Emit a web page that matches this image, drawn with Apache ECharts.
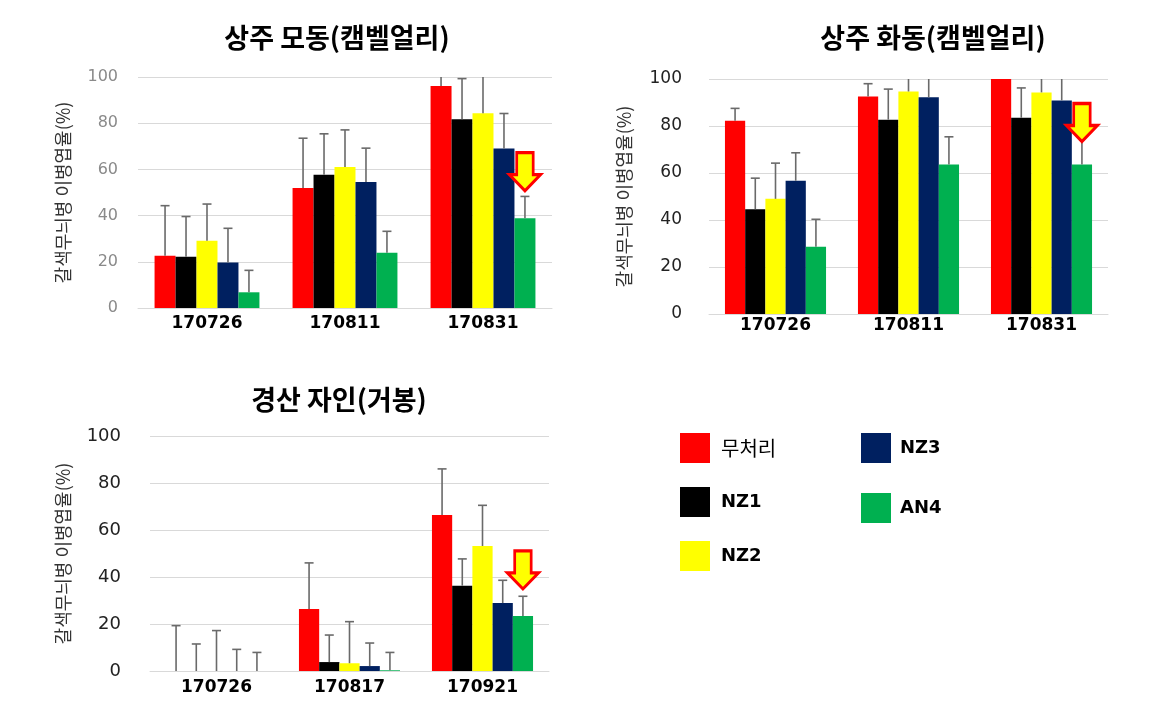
<!DOCTYPE html>
<html>
<head>
<meta charset="utf-8">
<script src="https://cdn.jsdelivr.net/npm/echarts@6/dist/echarts.min.js"></script>
<style>
html,body{margin:0;padding:0;background:#fff;}
#chart{width:1149px;height:716px;}
</style>
</head>
<body>
<div id="chart"></div>
<script>
// ---------- data ----------
var treatments = ['무처리', 'NZ1', 'NZ2', 'NZ3', 'AN4'];
var treatmentColors = ['#ff0000', '#000000', '#ffff00', '#002060', '#00b050'];
var yTicks = [0, 20, 40, 60, 80, 100];

// 상주 모동(캠벨얼리)
var modongDates = ['170726', '170811', '170831'];
var modong_무처리 = [22.6, 52.0, 96.1];
var modong_NZ1 = [22.2, 57.7, 81.7];
var modong_NZ2 = [29.1, 61.0, 84.3];
var modong_NZ3 = [19.7, 54.5, 69.1];
var modong_AN4 = [6.8, 23.9, 38.8];
var modongSD_무처리 = [21.7, 21.5, 7.0];
var modongSD_NZ1 = [17.4, 17.7, 17.6];
var modongSD_NZ2 = [15.9, 16.1, 18.0];
var modongSD_NZ3 = [14.8, 14.7, 15.1];
var modongSD_AN4 = [9.5, 9.3, 9.5];
var modongArrow = ['170831', 59];

// 상주 화동(캠벨얼리)
var hwadongDates = ['170726', '170811', '170831'];
var hwadong_무처리 = [82.2, 92.6, 100];
var hwadong_NZ1 = [44.6, 82.7, 83.5];
var hwadong_NZ2 = [49.0, 94.7, 94.3];
var hwadong_NZ3 = [56.7, 92.2, 90.9];
var hwadong_AN4 = [28.6, 63.6, 63.6];
var hwadongSD_무처리 = [5.3, 5.4, 5.0];
var hwadongSD_NZ1 = [13.2, 13.0, 12.7];
var hwadongSD_NZ2 = [15.2, 7.0, 9.0];
var hwadongSD_NZ3 = [11.9, 9.0, 10.0];
var hwadongSD_AN4 = [11.7, 11.8, 12.0];
var hwadongArrow = ['170831', 81.5];

// 경산 자인(거봉)
var jainDates = ['170726', '170817', '170921'];
var jain_무처리 = [0, 26.4, 66.4];
var jain_NZ1 = [0, 3.8, 36.3];
var jain_NZ2 = [0, 3.3, 53.2];
var jain_NZ3 = [0, 2.1, 28.9];
var jain_AN4 = [0, 0.3, 23.4];
var jainSD_무처리 = [19.3, 19.6, 19.6];
var jainSD_NZ1 = [11.5, 11.5, 11.4];
var jainSD_NZ2 = [17.2, 17.7, 17.3];
var jainSD_NZ3 = [9.2, 9.8, 9.7];
var jainSD_AN4 = [7.9, 7.6, 8.4];
var jainArrow = ['170921', 43];

var panelTitles = ['상주 모동(캠벨얼리)', '상주 화동(캠벨얼리)', '경산 자인(거봉)'];
var yAxisName = '갈색무늬병 이병엽율(%)';

// ---------- build ----------
var panels = [
  {dates: modongDates, vals: [modong_무처리, modong_NZ1, modong_NZ2, modong_NZ3, modong_AN4],
   sds: [modongSD_무처리, modongSD_NZ1, modongSD_NZ2, modongSD_NZ3, modongSD_AN4], arrow: modongArrow},
  {dates: hwadongDates, vals: [hwadong_무처리, hwadong_NZ1, hwadong_NZ2, hwadong_NZ3, hwadong_AN4],
   sds: [hwadongSD_무처리, hwadongSD_NZ1, hwadongSD_NZ2, hwadongSD_NZ3, hwadongSD_AN4], arrow: hwadongArrow},
  {dates: jainDates, vals: [jain_무처리, jain_NZ1, jain_NZ2, jain_NZ3, jain_AN4],
   sds: [jainSD_무처리, jainSD_NZ1, jainSD_NZ2, jainSD_NZ3, jainSD_AN4], arrow: jainArrow}
];

var CAT_GAP = 0.24;
var grids = [
  {left: 138, top: 77, width: 414, height: 231},
  {left: 709, top: 79, width: 399, height: 235},
  {left: 150, top: 436, width: 399, height: 235}
];
var yLabelStyle = [
  {fontSize: 16, color: '#8a8a8a', margin: 20},
  {fontSize: 17, color: '#222', margin: 27},
  {fontSize: 18, color: '#222', margin: 29}
];
var xLabelMargin = [7, 3, 8];
var nameGaps = [66, 76, 78];

var arrowPath = 'path://M7.5 0 L24.5 0 L24.5 22 L32 22 L16 38 L0 22 L7.5 22 Z';

function errRender(nSeries) {
  return function (params, api) {
    var cat = api.value(0), val = api.value(1), sd = api.value(2), si = api.value(3);
    var top = val + sd;
    var clipped = top > 100;
    if (clipped) top = 100;
    var base = api.coord([cat, val]);
    var tp = api.coord([cat, top]);
    var band = api.size([1, 0])[0];
    var gw = band * (1 - CAT_GAP);
    var bw = gw / nSeries;
    var x = base[0] - gw / 2 + (si + 0.5) * bw;
    var style = {stroke: '#6a6a6a', lineWidth: 1.6};
    var children = [{type: 'line', shape: {x1: x, y1: base[1], x2: x, y2: tp[1]}, style: style}];
    if (!clipped) {
      children.push({type: 'line', shape: {x1: x - 4.5, y1: tp[1], x2: x + 4.5, y2: tp[1]}, style: style});
    }
    return {type: 'group', children: children};
  };
}

var xAxes = [], yAxes = [], series = [];
panels.forEach(function (p, gi) {
  xAxes.push({
    type: 'category', gridIndex: gi, data: p.dates,
    axisTick: {show: false},
    axisLine: {lineStyle: {color: '#d9d9d9', width: 1}},
    axisLabel: {fontFamily: 'DejaVu Sans', fontWeight: 'bold', fontSize: 17, color: '#000', margin: xLabelMargin[gi]}
  });
  yAxes.push({
    type: 'value', gridIndex: gi, min: yTicks[0], max: yTicks[yTicks.length - 1], interval: yTicks[1] - yTicks[0],
    axisLine: {show: false}, axisTick: {show: false},
    splitLine: {lineStyle: {color: '#d9d9d9', width: 1}},
    axisLabel: {fontFamily: 'DejaVu Sans', fontSize: yLabelStyle[gi].fontSize, color: yLabelStyle[gi].color, margin: yLabelStyle[gi].margin},
    name: yAxisName, nameLocation: 'middle', nameGap: nameGaps[gi], nameRotate: 90,
    nameTextStyle: {fontFamily: 'Noto Sans CJK KR', fontSize: 18, color: '#333'}
  });
  var errData = [];
  treatments.forEach(function (t, si) {
    var s = {
      name: t, type: 'bar', xAxisIndex: gi, yAxisIndex: gi,
      data: p.vals[si], barGap: '0%', barCategoryGap: (CAT_GAP * 100) + '%',
      itemStyle: {color: treatmentColors[si]},
      emphasis: {disabled: true}, z: 2
    };
    if (si === treatments.length - 1) {
      s.markPoint = {
        symbol: arrowPath, symbolSize: [31, 38], silent: true,
        itemStyle: {color: '#ffff00', borderColor: '#ff0000', borderWidth: 3},
        label: {show: false},
        data: [{coord: p.arrow}],
        z: 10
      };
    }
    series.push(s);
    p.vals[si].forEach(function (v, ci) {
      errData.push([ci, v, p.sds[si][ci], si]);
    });
  });
  series.push({
    type: 'custom', xAxisIndex: gi, yAxisIndex: gi, data: errData,
    encode: {x: 0, y: 1}, renderItem: errRender(treatments.length), z: 5, silent: true
  });
});

var titleStyle = {fontFamily: 'Noto Sans CJK KR', fontSize: 27, fontWeight: 'bold', color: '#000'};
var option = {
  animation: false,
  backgroundColor: '#ffffff',
  title: [
    {text: panelTitles[0], left: 332, top: 19, textAlign: 'center', textStyle: titleStyle},
    {text: panelTitles[1], left: 928, top: 19, textAlign: 'center', textStyle: titleStyle},
    {text: panelTitles[2], left: 334, top: 381, textAlign: 'center', textStyle: titleStyle}
  ],
  legend: [
    {data: [
       {name: treatments[0], textStyle: {fontFamily: 'Noto Sans CJK KR', fontSize: 20, fontWeight: 'normal'}},
       {name: treatments[1]}, {name: treatments[2]}],
     orient: 'vertical', left: 680, top: 433, padding: 0, itemGap: 24,
     itemWidth: 30, itemHeight: 30, icon: 'rect', selectedMode: false,
     textStyle: {fontFamily: 'DejaVu Sans', fontSize: 18, fontWeight: 'bold', color: '#000', padding: [0, 0, 0, 6]}},
    {data: [treatments[3], treatments[4]],
     orient: 'vertical', left: 861, top: 433, padding: 0, itemGap: 30,
     itemWidth: 30, itemHeight: 30, icon: 'rect', selectedMode: false,
     textStyle: {fontFamily: 'DejaVu Sans', fontSize: 18, fontWeight: 'bold', color: '#000', padding: [0, 0, 0, 4]}}
  ],
  grid: grids,
  xAxis: xAxes,
  yAxis: yAxes,
  series: series
};

var chart = echarts.init(document.getElementById('chart'), null, {renderer: 'canvas'});
chart.setOption(option);
</script>
</body>
</html>
